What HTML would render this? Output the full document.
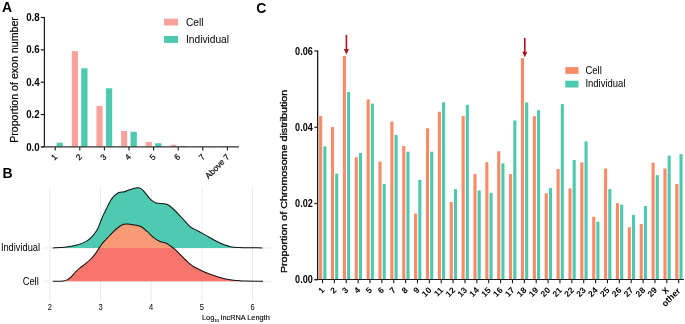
<!DOCTYPE html>
<html><head><meta charset="utf-8"><style>
html,body{margin:0;padding:0;background:#fff;width:685px;height:324px;overflow:hidden}
svg{display:block;font-family:"Liberation Sans", sans-serif}
</style></head><body>
<svg width="685" height="324" viewBox="0 0 685 324">
<rect width="685" height="324" fill="#fff"/>
<line x1="44.4" y1="16.9" x2="44.4" y2="146.9" stroke="#1a1a1a" stroke-width="1.2"/>
<line x1="40.8" y1="146.90" x2="44.4" y2="146.90" stroke="#1a1a1a" stroke-width="1.2"/>
<line x1="40.8" y1="114.55" x2="44.4" y2="114.55" stroke="#1a1a1a" stroke-width="1.2"/>
<line x1="40.8" y1="82.20" x2="44.4" y2="82.20" stroke="#1a1a1a" stroke-width="1.2"/>
<line x1="40.8" y1="49.85" x2="44.4" y2="49.85" stroke="#1a1a1a" stroke-width="1.2"/>
<line x1="40.8" y1="17.50" x2="44.4" y2="17.50" stroke="#1a1a1a" stroke-width="1.2"/>
<rect x="47.15" y="146.4" width="6.15" height="0.50" fill="#F9A29B"/>
<rect x="56.60" y="142.7" width="6.3" height="4.20" fill="#4DC9AF"/>
<rect x="71.80" y="51.1" width="6.15" height="95.80" fill="#F9A29B"/>
<rect x="81.25" y="68.3" width="6.3" height="78.60" fill="#4DC9AF"/>
<rect x="96.45" y="105.9" width="6.15" height="41.00" fill="#F9A29B"/>
<rect x="105.90" y="88.3" width="6.3" height="58.60" fill="#4DC9AF"/>
<rect x="121.10" y="131.0" width="6.15" height="15.90" fill="#F9A29B"/>
<rect x="130.55" y="131.8" width="6.3" height="15.10" fill="#4DC9AF"/>
<rect x="145.75" y="142.0" width="6.15" height="4.90" fill="#F9A29B"/>
<rect x="155.20" y="143.3" width="6.3" height="3.60" fill="#4DC9AF"/>
<rect x="170.40" y="144.8" width="6.15" height="2.10" fill="#F9A29B"/>
<rect x="179.85" y="146.0" width="6.3" height="0.90" fill="#4DC9AF"/>
<rect x="195.05" y="146.3" width="6.15" height="0.60" fill="#F9A29B"/>
<rect x="204.50" y="146.6" width="6.3" height="0.30" fill="#4DC9AF"/>
<rect x="219.70" y="146.3" width="6.15" height="0.60" fill="#F9A29B"/>
<rect x="229.15" y="146.6" width="6.3" height="0.30" fill="#4DC9AF"/>
<line x1="41.2" y1="146.9" x2="239" y2="146.9" stroke="#333" stroke-width="1.3"/>
<line x1="55.20" y1="146.9" x2="55.20" y2="150.6" stroke="#1a1a1a" stroke-width="1.1"/>
<line x1="79.80" y1="146.9" x2="79.80" y2="150.6" stroke="#1a1a1a" stroke-width="1.1"/>
<line x1="104.40" y1="146.9" x2="104.40" y2="150.6" stroke="#1a1a1a" stroke-width="1.1"/>
<line x1="129.00" y1="146.9" x2="129.00" y2="150.6" stroke="#1a1a1a" stroke-width="1.1"/>
<line x1="153.60" y1="146.9" x2="153.60" y2="150.6" stroke="#1a1a1a" stroke-width="1.1"/>
<line x1="178.20" y1="146.9" x2="178.20" y2="150.6" stroke="#1a1a1a" stroke-width="1.1"/>
<line x1="202.80" y1="146.9" x2="202.80" y2="150.6" stroke="#1a1a1a" stroke-width="1.1"/>
<line x1="227.40" y1="146.9" x2="227.40" y2="150.6" stroke="#1a1a1a" stroke-width="1.1"/>
<rect x="164" y="18.7" width="14.1" height="6.8" fill="#F9A29B"/>
<rect x="164" y="36" width="14.1" height="6.9" fill="#4DC9AF"/>
<line x1="49.8" y1="188" x2="49.8" y2="302" stroke="#EBEBEB" stroke-width="1"/>
<line x1="100.5" y1="188" x2="100.5" y2="302" stroke="#EBEBEB" stroke-width="1"/>
<line x1="151.2" y1="188" x2="151.2" y2="302" stroke="#EBEBEB" stroke-width="1"/>
<line x1="201.9" y1="188" x2="201.9" y2="302" stroke="#EBEBEB" stroke-width="1"/>
<line x1="252.5" y1="188" x2="252.5" y2="302" stroke="#EBEBEB" stroke-width="1"/>
<line x1="43" y1="247.95" x2="272" y2="247.95" stroke="#EBEBEB" stroke-width="1"/>
<line x1="43" y1="281.2" x2="272" y2="281.2" stroke="#EBEBEB" stroke-width="1"/>
<defs><clipPath id="above"><rect x="0" y="150" width="300" height="97.95"/></clipPath><clipPath id="below"><rect x="0" y="247.95" width="300" height="40"/></clipPath></defs>
<path d="M52.8,247.9 C54.78,247.78 60.67,247.68 64.7,247.2 C68.73,246.72 73.42,245.97 77,245.0 C80.58,244.03 83.65,242.85 86.2,241.4 C88.75,239.95 90.50,238.18 92.3,236.3 C94.10,234.42 95.72,232.30 97,230.1 C98.28,227.90 98.98,225.55 100,223.1 C101.02,220.65 102.12,217.62 103.1,215.4 C104.08,213.18 104.65,212.28 105.9,209.8 C107.15,207.32 109.20,202.82 110.6,200.5 C112.00,198.18 112.92,197.25 114.3,195.9 C115.68,194.55 117.37,193.07 118.9,192.4 C120.43,191.73 121.97,192.25 123.5,191.9 C125.03,191.55 126.55,190.83 128.1,190.3 C129.65,189.77 131.18,189.12 132.8,188.7 C134.42,188.28 136.43,187.82 137.8,187.8 C139.17,187.78 139.98,188.02 141,188.6 C142.02,189.18 142.80,190.08 143.9,191.3 C145.00,192.52 146.37,194.43 147.6,195.9 C148.83,197.37 149.87,198.92 151.3,200.1 C152.73,201.28 154.37,202.42 156.2,203.0 C158.03,203.58 160.45,203.33 162.3,203.6 C164.15,203.87 165.65,203.87 167.3,204.6 C168.95,205.33 170.35,206.42 172.2,208 C174.05,209.58 176.33,211.95 178.4,214.1 C180.47,216.25 182.55,218.73 184.6,220.9 C186.65,223.07 188.65,225.50 190.7,227.1 C192.75,228.70 194.48,229.20 196.9,230.5 C199.32,231.80 202.12,233.18 205.2,234.9 C208.28,236.62 212.17,239.13 215.4,240.8 C218.63,242.47 222.22,243.95 224.6,244.9 C226.98,245.85 227.48,246.08 229.7,246.5 C231.92,246.92 232.45,247.17 237.9,247.4 C243.35,247.63 258.32,247.82 262.4,247.9 L52.8,247.95 Z" fill="#4DCAB0"/>
<path d="M52.8,247.9 C54.78,247.78 60.67,247.68 64.7,247.2 C68.73,246.72 73.42,245.97 77,245.0 C80.58,244.03 83.65,242.85 86.2,241.4 C88.75,239.95 90.50,238.18 92.3,236.3 C94.10,234.42 95.72,232.30 97,230.1 C98.28,227.90 98.98,225.55 100,223.1 C101.02,220.65 102.12,217.62 103.1,215.4 C104.08,213.18 104.65,212.28 105.9,209.8 C107.15,207.32 109.20,202.82 110.6,200.5 C112.00,198.18 112.92,197.25 114.3,195.9 C115.68,194.55 117.37,193.07 118.9,192.4 C120.43,191.73 121.97,192.25 123.5,191.9 C125.03,191.55 126.55,190.83 128.1,190.3 C129.65,189.77 131.18,189.12 132.8,188.7 C134.42,188.28 136.43,187.82 137.8,187.8 C139.17,187.78 139.98,188.02 141,188.6 C142.02,189.18 142.80,190.08 143.9,191.3 C145.00,192.52 146.37,194.43 147.6,195.9 C148.83,197.37 149.87,198.92 151.3,200.1 C152.73,201.28 154.37,202.42 156.2,203.0 C158.03,203.58 160.45,203.33 162.3,203.6 C164.15,203.87 165.65,203.87 167.3,204.6 C168.95,205.33 170.35,206.42 172.2,208 C174.05,209.58 176.33,211.95 178.4,214.1 C180.47,216.25 182.55,218.73 184.6,220.9 C186.65,223.07 188.65,225.50 190.7,227.1 C192.75,228.70 194.48,229.20 196.9,230.5 C199.32,231.80 202.12,233.18 205.2,234.9 C208.28,236.62 212.17,239.13 215.4,240.8 C218.63,242.47 222.22,243.95 224.6,244.9 C226.98,245.85 227.48,246.08 229.7,246.5 C231.92,246.92 232.45,247.17 237.9,247.4 C243.35,247.63 258.32,247.82 262.4,247.9" fill="none" stroke="#111" stroke-width="1.05"/>
<path d="M52.8,281.2 C54.55,281.17 60.85,281.27 63.3,281 C65.75,280.73 66.10,280.37 67.5,279.6 C68.90,278.83 70.32,277.72 71.7,276.4 C73.08,275.08 74.42,273.13 75.8,271.7 C77.18,270.27 78.37,269.15 80,267.8 C81.63,266.45 83.75,265.11 85.6,263.6 C87.45,262.09 89.48,260.37 91.1,258.75 C92.72,257.13 93.92,255.76 95.3,253.9 C96.68,252.04 98.25,249.33 99.4,247.6 C100.55,245.87 101.12,244.85 102.2,243.5 C103.28,242.15 104.65,240.83 105.9,239.5 C107.15,238.17 108.10,237.13 109.7,235.5 C111.30,233.87 113.55,231.42 115.5,229.7 C117.45,227.98 119.45,226.13 121.4,225.2 C123.35,224.27 125.27,224.17 127.2,224.1 C129.13,224.03 130.67,224.35 133,224.8 C135.33,225.25 138.85,225.70 141.2,226.8 C143.55,227.90 144.95,229.55 147.1,231.4 C149.25,233.25 151.97,236.23 154.1,237.9 C156.23,239.57 157.95,240.53 159.9,241.4 C161.85,242.27 164.05,242.33 165.8,243.1 C167.55,243.87 168.85,244.97 170.4,246 C171.95,247.03 173.50,247.92 175.1,249.3 C176.70,250.68 178.15,252.43 180,254.3 C181.85,256.17 184.13,258.57 186.2,260.5 C188.27,262.43 190.33,264.45 192.4,265.9 C194.47,267.35 196.50,268.13 198.6,269.2 C200.70,270.27 203.10,271.47 205,272.3 C206.90,273.13 207.62,273.37 210,274.2 C212.38,275.03 216.22,276.40 219.3,277.3 C222.38,278.20 225.42,279.05 228.5,279.6 C231.58,280.15 235.02,280.35 237.8,280.6 C240.58,280.85 241.00,281.00 245.2,281.1 C249.40,281.20 260.03,281.18 263,281.2 Z" fill="#F79A75" clip-path="url(#above)"/>
<path d="M52.8,281.2 C54.55,281.17 60.85,281.27 63.3,281 C65.75,280.73 66.10,280.37 67.5,279.6 C68.90,278.83 70.32,277.72 71.7,276.4 C73.08,275.08 74.42,273.13 75.8,271.7 C77.18,270.27 78.37,269.15 80,267.8 C81.63,266.45 83.75,265.11 85.6,263.6 C87.45,262.09 89.48,260.37 91.1,258.75 C92.72,257.13 93.92,255.76 95.3,253.9 C96.68,252.04 98.25,249.33 99.4,247.6 C100.55,245.87 101.12,244.85 102.2,243.5 C103.28,242.15 104.65,240.83 105.9,239.5 C107.15,238.17 108.10,237.13 109.7,235.5 C111.30,233.87 113.55,231.42 115.5,229.7 C117.45,227.98 119.45,226.13 121.4,225.2 C123.35,224.27 125.27,224.17 127.2,224.1 C129.13,224.03 130.67,224.35 133,224.8 C135.33,225.25 138.85,225.70 141.2,226.8 C143.55,227.90 144.95,229.55 147.1,231.4 C149.25,233.25 151.97,236.23 154.1,237.9 C156.23,239.57 157.95,240.53 159.9,241.4 C161.85,242.27 164.05,242.33 165.8,243.1 C167.55,243.87 168.85,244.97 170.4,246 C171.95,247.03 173.50,247.92 175.1,249.3 C176.70,250.68 178.15,252.43 180,254.3 C181.85,256.17 184.13,258.57 186.2,260.5 C188.27,262.43 190.33,264.45 192.4,265.9 C194.47,267.35 196.50,268.13 198.6,269.2 C200.70,270.27 203.10,271.47 205,272.3 C206.90,273.13 207.62,273.37 210,274.2 C212.38,275.03 216.22,276.40 219.3,277.3 C222.38,278.20 225.42,279.05 228.5,279.6 C231.58,280.15 235.02,280.35 237.8,280.6 C240.58,280.85 241.00,281.00 245.2,281.1 C249.40,281.20 260.03,281.18 263,281.2 Z" fill="#F8756B" clip-path="url(#below)"/>
<path d="M52.8,281.2 C54.55,281.17 60.85,281.27 63.3,281 C65.75,280.73 66.10,280.37 67.5,279.6 C68.90,278.83 70.32,277.72 71.7,276.4 C73.08,275.08 74.42,273.13 75.8,271.7 C77.18,270.27 78.37,269.15 80,267.8 C81.63,266.45 83.75,265.11 85.6,263.6 C87.45,262.09 89.48,260.37 91.1,258.75 C92.72,257.13 93.92,255.76 95.3,253.9 C96.68,252.04 98.25,249.33 99.4,247.6 C100.55,245.87 101.12,244.85 102.2,243.5 C103.28,242.15 104.65,240.83 105.9,239.5 C107.15,238.17 108.10,237.13 109.7,235.5 C111.30,233.87 113.55,231.42 115.5,229.7 C117.45,227.98 119.45,226.13 121.4,225.2 C123.35,224.27 125.27,224.17 127.2,224.1 C129.13,224.03 130.67,224.35 133,224.8 C135.33,225.25 138.85,225.70 141.2,226.8 C143.55,227.90 144.95,229.55 147.1,231.4 C149.25,233.25 151.97,236.23 154.1,237.9 C156.23,239.57 157.95,240.53 159.9,241.4 C161.85,242.27 164.05,242.33 165.8,243.1 C167.55,243.87 168.85,244.97 170.4,246 C171.95,247.03 173.50,247.92 175.1,249.3 C176.70,250.68 178.15,252.43 180,254.3 C181.85,256.17 184.13,258.57 186.2,260.5 C188.27,262.43 190.33,264.45 192.4,265.9 C194.47,267.35 196.50,268.13 198.6,269.2 C200.70,270.27 203.10,271.47 205,272.3 C206.90,273.13 207.62,273.37 210,274.2 C212.38,275.03 216.22,276.40 219.3,277.3 C222.38,278.20 225.42,279.05 228.5,279.6 C231.58,280.15 235.02,280.35 237.8,280.6 C240.58,280.85 241.00,281.00 245.2,281.1 C249.40,281.20 260.03,281.18 263,281.2" fill="none" stroke="#111" stroke-width="1.05"/>
<line x1="317.65" y1="50.4" x2="317.65" y2="279.8" stroke="#1a1a1a" stroke-width="1.3"/>
<line x1="314.4" y1="279.80" x2="317.65" y2="279.80" stroke="#1a1a1a" stroke-width="1.2"/>
<line x1="314.4" y1="203.53" x2="317.65" y2="203.53" stroke="#1a1a1a" stroke-width="1.2"/>
<line x1="314.4" y1="127.27" x2="317.65" y2="127.27" stroke="#1a1a1a" stroke-width="1.2"/>
<line x1="314.4" y1="51.00" x2="317.65" y2="51.00" stroke="#1a1a1a" stroke-width="1.2"/>
<rect x="319.10" y="115.9" width="3.1" height="163.90" fill="#FB8A66"/>
<rect x="323.30" y="146.3" width="3.1" height="133.50" fill="#4DC9AF"/>
<rect x="330.97" y="127" width="3.1" height="152.80" fill="#FB8A66"/>
<rect x="335.17" y="173.6" width="3.1" height="106.20" fill="#4DC9AF"/>
<rect x="342.85" y="55.9" width="3.1" height="223.90" fill="#FB8A66"/>
<rect x="347.05" y="92" width="3.1" height="187.80" fill="#4DC9AF"/>
<rect x="354.72" y="157.2" width="3.1" height="122.60" fill="#FB8A66"/>
<rect x="358.92" y="153" width="3.1" height="126.80" fill="#4DC9AF"/>
<rect x="366.59" y="99.4" width="3.1" height="180.40" fill="#FB8A66"/>
<rect x="370.79" y="103.6" width="3.1" height="176.20" fill="#4DC9AF"/>
<rect x="378.46" y="161.6" width="3.1" height="118.20" fill="#FB8A66"/>
<rect x="382.67" y="184" width="3.1" height="95.80" fill="#4DC9AF"/>
<rect x="390.34" y="121.6" width="3.1" height="158.20" fill="#FB8A66"/>
<rect x="394.54" y="134.9" width="3.1" height="144.90" fill="#4DC9AF"/>
<rect x="402.21" y="146" width="3.1" height="133.80" fill="#FB8A66"/>
<rect x="406.41" y="151.7" width="3.1" height="128.10" fill="#4DC9AF"/>
<rect x="414.08" y="213.6" width="3.1" height="66.20" fill="#FB8A66"/>
<rect x="418.28" y="179.8" width="3.1" height="100.00" fill="#4DC9AF"/>
<rect x="425.96" y="128.3" width="3.1" height="151.50" fill="#FB8A66"/>
<rect x="430.16" y="151.7" width="3.1" height="128.10" fill="#4DC9AF"/>
<rect x="437.83" y="111.7" width="3.1" height="168.10" fill="#FB8A66"/>
<rect x="442.03" y="102.3" width="3.1" height="177.50" fill="#4DC9AF"/>
<rect x="449.70" y="202" width="3.1" height="77.80" fill="#FB8A66"/>
<rect x="453.90" y="189.1" width="3.1" height="90.70" fill="#4DC9AF"/>
<rect x="461.58" y="115.9" width="3.1" height="163.90" fill="#FB8A66"/>
<rect x="465.78" y="104.8" width="3.1" height="175.00" fill="#4DC9AF"/>
<rect x="473.45" y="174.1" width="3.1" height="105.70" fill="#FB8A66"/>
<rect x="477.65" y="190.4" width="3.1" height="89.40" fill="#4DC9AF"/>
<rect x="485.32" y="162.2" width="3.1" height="117.60" fill="#FB8A66"/>
<rect x="489.52" y="192.8" width="3.1" height="87.00" fill="#4DC9AF"/>
<rect x="497.19" y="151.2" width="3.1" height="128.60" fill="#FB8A66"/>
<rect x="501.39" y="163.3" width="3.1" height="116.50" fill="#4DC9AF"/>
<rect x="509.07" y="174.1" width="3.1" height="105.70" fill="#FB8A66"/>
<rect x="513.27" y="120.4" width="3.1" height="159.40" fill="#4DC9AF"/>
<rect x="520.94" y="58.1" width="3.1" height="221.70" fill="#FB8A66"/>
<rect x="525.14" y="102.3" width="3.1" height="177.50" fill="#4DC9AF"/>
<rect x="532.81" y="116.2" width="3.1" height="163.60" fill="#FB8A66"/>
<rect x="537.01" y="110.2" width="3.1" height="169.60" fill="#4DC9AF"/>
<rect x="544.69" y="193.3" width="3.1" height="86.50" fill="#FB8A66"/>
<rect x="548.89" y="187.9" width="3.1" height="91.90" fill="#4DC9AF"/>
<rect x="556.56" y="169.1" width="3.1" height="110.70" fill="#FB8A66"/>
<rect x="560.76" y="104.1" width="3.1" height="175.70" fill="#4DC9AF"/>
<rect x="568.43" y="188.4" width="3.1" height="91.40" fill="#FB8A66"/>
<rect x="572.63" y="159.9" width="3.1" height="119.90" fill="#4DC9AF"/>
<rect x="580.31" y="162.4" width="3.1" height="117.40" fill="#FB8A66"/>
<rect x="584.51" y="141.4" width="3.1" height="138.40" fill="#4DC9AF"/>
<rect x="592.18" y="216.8" width="3.1" height="63.00" fill="#FB8A66"/>
<rect x="596.38" y="221.7" width="3.1" height="58.10" fill="#4DC9AF"/>
<rect x="604.05" y="168.5" width="3.1" height="111.30" fill="#FB8A66"/>
<rect x="608.25" y="189" width="3.1" height="90.80" fill="#4DC9AF"/>
<rect x="615.92" y="203.1" width="3.1" height="76.70" fill="#FB8A66"/>
<rect x="620.12" y="204.7" width="3.1" height="75.10" fill="#4DC9AF"/>
<rect x="627.80" y="227.2" width="3.1" height="52.60" fill="#FB8A66"/>
<rect x="632.00" y="215" width="3.1" height="64.80" fill="#4DC9AF"/>
<rect x="639.67" y="224" width="3.1" height="55.80" fill="#FB8A66"/>
<rect x="643.87" y="206" width="3.1" height="73.80" fill="#4DC9AF"/>
<rect x="651.54" y="162.7" width="3.1" height="117.10" fill="#FB8A66"/>
<rect x="655.74" y="175.1" width="3.1" height="104.70" fill="#4DC9AF"/>
<rect x="663.42" y="168.4" width="3.1" height="111.40" fill="#FB8A66"/>
<rect x="667.62" y="155.6" width="3.1" height="124.20" fill="#4DC9AF"/>
<rect x="675.29" y="184" width="3.1" height="95.80" fill="#FB8A66"/>
<rect x="679.49" y="154.1" width="3.1" height="125.70" fill="#4DC9AF"/>
<line x1="314.6" y1="279.5" x2="684" y2="279.5" stroke="#1a1a1a" stroke-width="1.2"/>
<line x1="322.50" y1="279.8" x2="322.50" y2="283.3" stroke="#1a1a1a" stroke-width="1.1"/>
<line x1="334.37" y1="279.8" x2="334.37" y2="283.3" stroke="#1a1a1a" stroke-width="1.1"/>
<line x1="346.25" y1="279.8" x2="346.25" y2="283.3" stroke="#1a1a1a" stroke-width="1.1"/>
<line x1="358.12" y1="279.8" x2="358.12" y2="283.3" stroke="#1a1a1a" stroke-width="1.1"/>
<line x1="369.99" y1="279.8" x2="369.99" y2="283.3" stroke="#1a1a1a" stroke-width="1.1"/>
<line x1="381.87" y1="279.8" x2="381.87" y2="283.3" stroke="#1a1a1a" stroke-width="1.1"/>
<line x1="393.74" y1="279.8" x2="393.74" y2="283.3" stroke="#1a1a1a" stroke-width="1.1"/>
<line x1="405.61" y1="279.8" x2="405.61" y2="283.3" stroke="#1a1a1a" stroke-width="1.1"/>
<line x1="417.48" y1="279.8" x2="417.48" y2="283.3" stroke="#1a1a1a" stroke-width="1.1"/>
<line x1="429.36" y1="279.8" x2="429.36" y2="283.3" stroke="#1a1a1a" stroke-width="1.1"/>
<line x1="441.23" y1="279.8" x2="441.23" y2="283.3" stroke="#1a1a1a" stroke-width="1.1"/>
<line x1="453.10" y1="279.8" x2="453.10" y2="283.3" stroke="#1a1a1a" stroke-width="1.1"/>
<line x1="464.98" y1="279.8" x2="464.98" y2="283.3" stroke="#1a1a1a" stroke-width="1.1"/>
<line x1="476.85" y1="279.8" x2="476.85" y2="283.3" stroke="#1a1a1a" stroke-width="1.1"/>
<line x1="488.72" y1="279.8" x2="488.72" y2="283.3" stroke="#1a1a1a" stroke-width="1.1"/>
<line x1="500.59" y1="279.8" x2="500.59" y2="283.3" stroke="#1a1a1a" stroke-width="1.1"/>
<line x1="512.47" y1="279.8" x2="512.47" y2="283.3" stroke="#1a1a1a" stroke-width="1.1"/>
<line x1="524.34" y1="279.8" x2="524.34" y2="283.3" stroke="#1a1a1a" stroke-width="1.1"/>
<line x1="536.21" y1="279.8" x2="536.21" y2="283.3" stroke="#1a1a1a" stroke-width="1.1"/>
<line x1="548.09" y1="279.8" x2="548.09" y2="283.3" stroke="#1a1a1a" stroke-width="1.1"/>
<line x1="559.96" y1="279.8" x2="559.96" y2="283.3" stroke="#1a1a1a" stroke-width="1.1"/>
<line x1="571.83" y1="279.8" x2="571.83" y2="283.3" stroke="#1a1a1a" stroke-width="1.1"/>
<line x1="583.71" y1="279.8" x2="583.71" y2="283.3" stroke="#1a1a1a" stroke-width="1.1"/>
<line x1="595.58" y1="279.8" x2="595.58" y2="283.3" stroke="#1a1a1a" stroke-width="1.1"/>
<line x1="607.45" y1="279.8" x2="607.45" y2="283.3" stroke="#1a1a1a" stroke-width="1.1"/>
<line x1="619.32" y1="279.8" x2="619.32" y2="283.3" stroke="#1a1a1a" stroke-width="1.1"/>
<line x1="631.20" y1="279.8" x2="631.20" y2="283.3" stroke="#1a1a1a" stroke-width="1.1"/>
<line x1="643.07" y1="279.8" x2="643.07" y2="283.3" stroke="#1a1a1a" stroke-width="1.1"/>
<line x1="654.94" y1="279.8" x2="654.94" y2="283.3" stroke="#1a1a1a" stroke-width="1.1"/>
<line x1="666.82" y1="279.8" x2="666.82" y2="283.3" stroke="#1a1a1a" stroke-width="1.1"/>
<line x1="678.69" y1="279.8" x2="678.69" y2="283.3" stroke="#1a1a1a" stroke-width="1.1"/>
<line x1="346.4" y1="34.9" x2="346.4" y2="50.6" stroke="#B0111C" stroke-width="1.6"/>
<path d="M343.79999999999995,49.0 L349.0,49.0 L346.4,54.6 Z" fill="#B0111C"/>
<line x1="524.8" y1="38" x2="524.8" y2="53.3" stroke="#B0111C" stroke-width="1.6"/>
<path d="M522.1999999999999,51.699999999999996 L527.4,51.699999999999996 L524.8,57.3 Z" fill="#B0111C"/>
<rect x="565.3" y="67.1" width="13.2" height="6.8" fill="#FB8A66"/>
<rect x="565.3" y="80.7" width="13.2" height="6.8" fill="#4DC9AF"/>
<g style="filter:grayscale(1)">
<text x="2" y="12" font-size="14" font-weight="bold" fill="#000">A</text>
<text transform="translate(39.6,150.50) scale(1,1.15)" font-size="9.7" font-weight="bold" text-anchor="end" fill="#000">0.0</text>
<text transform="translate(39.6,118.15) scale(1,1.15)" font-size="9.7" font-weight="bold" text-anchor="end" fill="#000">0.2</text>
<text transform="translate(39.6,85.80) scale(1,1.15)" font-size="9.7" font-weight="bold" text-anchor="end" fill="#000">0.4</text>
<text transform="translate(39.6,53.45) scale(1,1.15)" font-size="9.7" font-weight="bold" text-anchor="end" fill="#000">0.6</text>
<text transform="translate(39.6,21.10) scale(1,1.15)" font-size="9.7" font-weight="bold" text-anchor="end" fill="#000">0.8</text>
<text transform="translate(17.5,142.8) rotate(-90)" font-size="10.62" fill="#000" stroke="#000" stroke-width="0.2">Proportion of exon number</text>
<text transform="translate(57.80,157.6) rotate(-45)" font-size="8.3" text-anchor="end" fill="#000" stroke="#000" stroke-width="0.2">1</text>
<text transform="translate(82.40,157.6) rotate(-45)" font-size="8.3" text-anchor="end" fill="#000" stroke="#000" stroke-width="0.2">2</text>
<text transform="translate(107.00,157.6) rotate(-45)" font-size="8.3" text-anchor="end" fill="#000" stroke="#000" stroke-width="0.2">3</text>
<text transform="translate(131.60,157.6) rotate(-45)" font-size="8.3" text-anchor="end" fill="#000" stroke="#000" stroke-width="0.2">4</text>
<text transform="translate(156.20,157.6) rotate(-45)" font-size="8.3" text-anchor="end" fill="#000" stroke="#000" stroke-width="0.2">5</text>
<text transform="translate(180.80,157.6) rotate(-45)" font-size="8.3" text-anchor="end" fill="#000" stroke="#000" stroke-width="0.2">6</text>
<text transform="translate(205.40,157.6) rotate(-45)" font-size="8.3" text-anchor="end" fill="#000" stroke="#000" stroke-width="0.2">7</text>
<text transform="translate(230.00,157.6) rotate(-45)" font-size="8.3" text-anchor="end" fill="#000" stroke="#000" stroke-width="0.2">Above 7</text>
<text x="186" y="26" font-size="10.2" fill="#000">Cell</text>
<text x="186" y="43.2" font-size="10.2" fill="#000">Individual</text>
<text x="2.6" y="178" font-size="14" font-weight="bold" fill="#000">B</text>
<text transform="translate(40.1,250.7) scale(1,1.08)" font-size="9.3" text-anchor="end" fill="#000">Individual</text>
<text transform="translate(38.7,284.8) scale(1,1.08)" font-size="9.3" text-anchor="end" fill="#000">Cell</text>
<text transform="translate(49.8,310.1) scale(1,1.12)" font-size="7.5" text-anchor="middle" fill="#000">2</text>
<text transform="translate(100.5,310.1) scale(1,1.12)" font-size="7.5" text-anchor="middle" fill="#000">3</text>
<text transform="translate(151.2,310.1) scale(1,1.12)" font-size="7.5" text-anchor="middle" fill="#000">4</text>
<text transform="translate(201.9,310.1) scale(1,1.12)" font-size="7.5" text-anchor="middle" fill="#000">5</text>
<text transform="translate(252.5,310.1) scale(1,1.12)" font-size="7.5" text-anchor="middle" fill="#000">6</text>
<text x="202" y="319.5" font-size="7.35" fill="#000" stroke="#000" stroke-width="0.12">Log<tspan font-size="4" dy="2">10</tspan><tspan dy="-2"> lncRNA Length</tspan></text>
<text x="256.3" y="12.6" font-size="14" font-weight="bold" fill="#000">C</text>
<text transform="translate(312.8,283.35) scale(1,1.17)" font-size="9.1" font-weight="bold" text-anchor="end" fill="#000">0.00</text>
<text transform="translate(312.8,207.08) scale(1,1.17)" font-size="9.1" font-weight="bold" text-anchor="end" fill="#000">0.02</text>
<text transform="translate(312.8,130.82) scale(1,1.17)" font-size="9.1" font-weight="bold" text-anchor="end" fill="#000">0.04</text>
<text transform="translate(312.8,54.55) scale(1,1.17)" font-size="9.1" font-weight="bold" text-anchor="end" fill="#000">0.06</text>
<text transform="translate(287.4,273.1) scale(1,1.1) rotate(-90)" font-size="9.75" fill="#000" stroke="#000" stroke-width="0.3">Proportion of Chromosome distribution</text>
<text transform="translate(325.20,290.70) rotate(-45)" font-size="8.5" font-weight="bold" text-anchor="end" fill="#000">1</text>
<text transform="translate(337.07,290.70) rotate(-45)" font-size="8.5" font-weight="bold" text-anchor="end" fill="#000">2</text>
<text transform="translate(348.95,290.70) rotate(-45)" font-size="8.5" font-weight="bold" text-anchor="end" fill="#000">3</text>
<text transform="translate(360.82,290.70) rotate(-45)" font-size="8.5" font-weight="bold" text-anchor="end" fill="#000">4</text>
<text transform="translate(372.69,290.70) rotate(-45)" font-size="8.5" font-weight="bold" text-anchor="end" fill="#000">5</text>
<text transform="translate(384.56,290.70) rotate(-45)" font-size="8.5" font-weight="bold" text-anchor="end" fill="#000">6</text>
<text transform="translate(396.44,290.70) rotate(-45)" font-size="8.5" font-weight="bold" text-anchor="end" fill="#000">7</text>
<text transform="translate(408.31,290.70) rotate(-45)" font-size="8.5" font-weight="bold" text-anchor="end" fill="#000">8</text>
<text transform="translate(420.18,290.70) rotate(-45)" font-size="8.5" font-weight="bold" text-anchor="end" fill="#000">9</text>
<text transform="translate(432.06,290.70) rotate(-45)" font-size="8.5" font-weight="bold" text-anchor="end" fill="#000">10</text>
<text transform="translate(443.93,290.70) rotate(-45)" font-size="8.5" font-weight="bold" text-anchor="end" fill="#000">11</text>
<text transform="translate(455.80,290.70) rotate(-45)" font-size="8.5" font-weight="bold" text-anchor="end" fill="#000">12</text>
<text transform="translate(467.68,290.70) rotate(-45)" font-size="8.5" font-weight="bold" text-anchor="end" fill="#000">13</text>
<text transform="translate(479.55,290.70) rotate(-45)" font-size="8.5" font-weight="bold" text-anchor="end" fill="#000">14</text>
<text transform="translate(491.42,290.70) rotate(-45)" font-size="8.5" font-weight="bold" text-anchor="end" fill="#000">15</text>
<text transform="translate(503.29,290.70) rotate(-45)" font-size="8.5" font-weight="bold" text-anchor="end" fill="#000">16</text>
<text transform="translate(515.17,290.70) rotate(-45)" font-size="8.5" font-weight="bold" text-anchor="end" fill="#000">17</text>
<text transform="translate(527.04,290.70) rotate(-45)" font-size="8.5" font-weight="bold" text-anchor="end" fill="#000">18</text>
<text transform="translate(538.91,290.70) rotate(-45)" font-size="8.5" font-weight="bold" text-anchor="end" fill="#000">19</text>
<text transform="translate(550.79,290.70) rotate(-45)" font-size="8.5" font-weight="bold" text-anchor="end" fill="#000">20</text>
<text transform="translate(562.66,290.70) rotate(-45)" font-size="8.5" font-weight="bold" text-anchor="end" fill="#000">21</text>
<text transform="translate(574.53,290.70) rotate(-45)" font-size="8.5" font-weight="bold" text-anchor="end" fill="#000">22</text>
<text transform="translate(586.41,290.70) rotate(-45)" font-size="8.5" font-weight="bold" text-anchor="end" fill="#000">23</text>
<text transform="translate(598.28,290.70) rotate(-45)" font-size="8.5" font-weight="bold" text-anchor="end" fill="#000">24</text>
<text transform="translate(610.15,290.70) rotate(-45)" font-size="8.5" font-weight="bold" text-anchor="end" fill="#000">25</text>
<text transform="translate(622.02,290.70) rotate(-45)" font-size="8.5" font-weight="bold" text-anchor="end" fill="#000">26</text>
<text transform="translate(633.90,290.70) rotate(-45)" font-size="8.5" font-weight="bold" text-anchor="end" fill="#000">27</text>
<text transform="translate(645.77,290.70) rotate(-45)" font-size="8.5" font-weight="bold" text-anchor="end" fill="#000">28</text>
<text transform="translate(657.64,290.70) rotate(-45)" font-size="8.5" font-weight="bold" text-anchor="end" fill="#000">29</text>
<text transform="translate(669.52,290.70) rotate(-45)" font-size="8.5" font-weight="bold" text-anchor="end" fill="#000">X</text>
<text transform="translate(680.89,291.50) rotate(-45)" font-size="8.9" font-weight="bold" text-anchor="end" fill="#000">other</text>
<text transform="translate(585.4,73.9) scale(1,1.12)" font-size="9.5" fill="#000">Cell</text>
<text transform="translate(585.4,87.4) scale(1,1.12)" font-size="9.5" fill="#000">Individual</text>
</g>
</svg>
</body></html>
